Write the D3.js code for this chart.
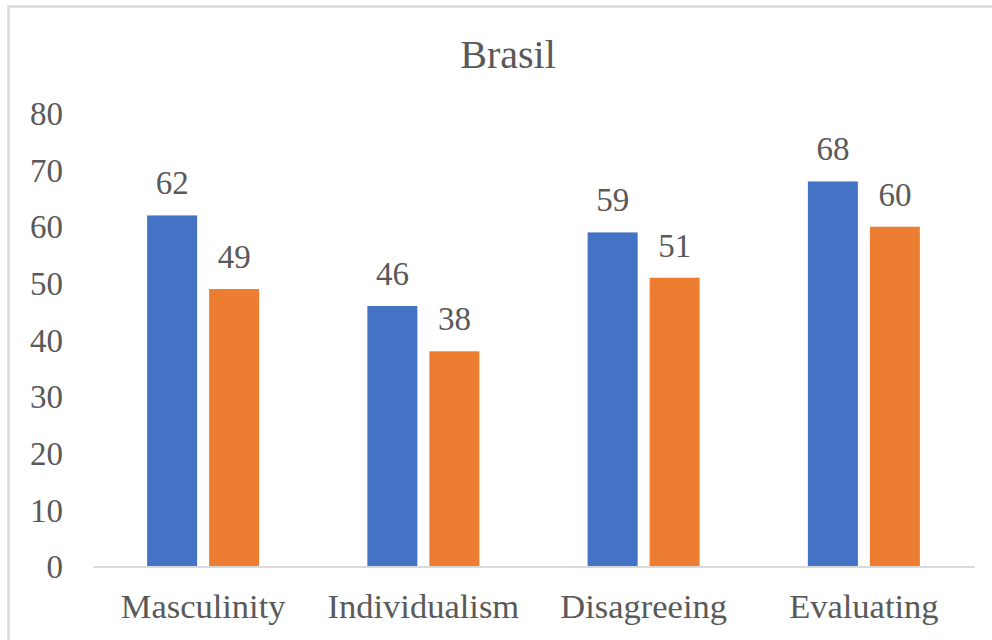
<!DOCTYPE html>
<html>
<head>
<meta charset="utf-8">
<script src="https://cdn.jsdelivr.net/npm/d3@7/dist/d3.min.js"></script>
<style>
  html, body { margin: 0; padding: 0; background: #ffffff; overflow: hidden; }
  svg { display: block; }
</style>
</head>
<body>
<svg id="chart" width="992" height="640" font-family="Liberation Serif, Times New Roman, serif"></svg>
<script>
// Chart data
const title = "Brasil";
const categories = ["Masculinity", "Individualism", "Disagreeing", "Evaluating"];
const seriesNames = ["Series 1", "Series 2"];
const series1 = [62, 46, 59, 68];
const series2 = [49, 38, 51, 60];
const yTicks = [0, 10, 20, 30, 40, 50, 60, 70, 80];
const colors = ["#4472C4", "#ED7D31"];

const FONT = "Liberation Serif, Times New Roman, serif";
const TEXT = "#595959";

const svg = d3.select("#chart");

// Chart frame (extends past the page on the right and bottom)
svg.append("rect")
  .attr("x", 8.5).attr("y", 6.5)
  .attr("width", 1100).attr("height", 800)
  .attr("fill", "#ffffff")
  .attr("stroke", "#D9D9D9")
  .attr("stroke-width", 2.5);

// Plot area geometry
const plot = { left: 93, right: 974, top: 113.5, bottom: 566.5 };

const y = d3.scaleLinear().domain([0, 80]).range([plot.bottom, plot.top]);

const groupWidth = 112;
const step = (plot.right - plot.left) / categories.length;
const pad = 1 - groupWidth / step;
const x0 = d3.scaleBand()
  .domain(categories)
  .range([plot.left, plot.right])
  .paddingInner(pad)
  .paddingOuter(pad / 2);

const x1 = d3.scaleBand()
  .domain(seriesNames)
  .range([0, x0.bandwidth()])
  .paddingInner(12 / 62);

// Title
svg.append("text")
  .attr("x", 508).attr("y", 67.5)
  .attr("text-anchor", "middle")
  .attr("font-family", FONT)
  .attr("font-size", 40)
  .attr("fill", TEXT)
  .text(title);

// Y axis labels (no axis line, no gridlines)
const yAxis = d3.axisLeft(y).tickValues(yTicks).tickSize(0).tickPadding(0);
const yG = svg.append("g")
  .attr("transform", `translate(63,0)`)
  .call(yAxis)
  .attr("font-family", FONT)
  .attr("font-size", 33);
yG.select(".domain").remove();
yG.selectAll("text")
  .attr("x", 0)
  .attr("dy", "0.34em")
  .attr("fill", TEXT);

// Bars
const rows = categories.map((c, i) => ({ cat: c, vals: [series1[i], series2[i]] }));
const groups = svg.append("g").selectAll("g")
  .data(rows)
  .join("g")
  .attr("transform", d => `translate(${x0(d.cat)},0)`);

groups.selectAll("rect")
  .data(d => d.vals.map((v, j) => ({ name: seriesNames[j], v, j })))
  .join("rect")
  .attr("x", d => x1(d.name))
  .attr("y", d => y(d.v))
  .attr("width", x1.bandwidth())
  .attr("height", d => y(0) - y(d.v))
  .attr("fill", d => colors[d.j]);

// Value labels
groups.selectAll("text.val")
  .data(d => d.vals.map((v, j) => ({ name: seriesNames[j], v, j })))
  .join("text")
  .attr("class", "val")
  .attr("x", d => x1(d.name) + x1.bandwidth() / 2)
  .attr("y", d => y(d.v) - 21)
  .attr("text-anchor", "middle")
  .attr("font-family", FONT)
  .attr("font-size", 33)
  .attr("fill", TEXT)
  .text(d => d.v);

// X axis line and category labels
const xAxis = d3.axisBottom(x0).tickSize(0).tickPadding(0);
const xG = svg.append("g")
  .attr("transform", `translate(0,${y(0)})`)
  .call(xAxis)
  .attr("font-family", FONT)
  .attr("font-size", 34.5);
xG.select(".domain")
  .attr("stroke", "#D9D9D9")
  .attr("stroke-width", 2);
xG.selectAll("text")
  .attr("y", 51.5)
  .attr("dy", 0)
  .attr("fill", TEXT);
</script>
</body>
</html>
